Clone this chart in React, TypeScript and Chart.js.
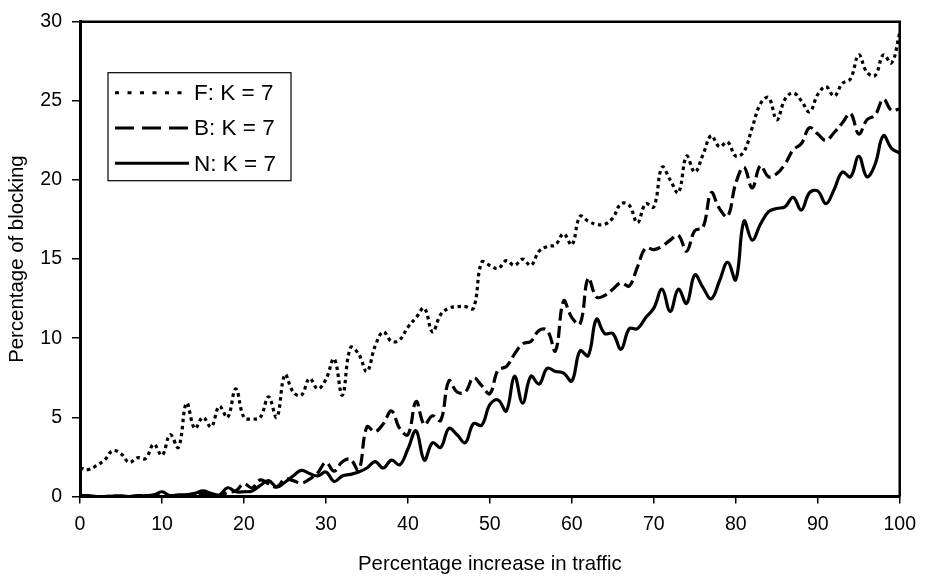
import React, { useEffect, useRef } from 'react';
import { Chart, registerables } from 'chart.js';

Chart.register(...registerables);

const FONT = '"Liberation Sans", Arial, Helvetica, sans-serif';

// Categories: percentage increase in traffic (0..100, step 1)
const xValues: number[] = Array.from({ length: 101 }, (_, i) => i);

const xTickStep = 10;
const yTickStep = 5;

const seriesLabels = ['F: K = 7', 'B: K = 7', 'N: K = 7'];

const seriesF = [
  1.8, 1.7, 1.95, 2.3, 2.9, 2.7, 2.15, 2.45, 2.4, 3.3,
  2.6, 3.9, 3.1, 5.9, 4.3, 5.0, 4.4, 5.7, 5.0, 6.8,
  5.0, 4.9, 5.0, 6.3, 5.0, 7.7, 6.6, 6.4, 7.45, 6.8,
  7.4, 8.7, 6.4, 9.4, 9.0, 7.9, 9.5, 10.4, 9.8, 9.9,
  10.7, 11.3, 11.9, 10.4, 11.5, 11.9, 12.0, 12.0, 11.9, 14.8,
  14.6, 14.4, 14.9, 14.6, 15.0, 14.6, 15.5, 15.8, 15.9, 16.6,
  15.9, 17.7, 17.4, 17.2, 17.2, 17.6, 18.5, 18.4, 17.3, 18.5,
  18.3, 20.8, 20.0, 19.2, 21.5, 20.5, 21.6, 22.8, 22.1, 22.4,
  21.5, 21.8, 23.3, 24.8, 25.2, 23.8, 25.1, 25.5, 25.0, 24.3,
  25.4, 25.9, 25.3, 26.1, 26.4, 27.9, 26.8, 26.6, 27.9, 27.4,
  29.3,
];

const seriesB = [
  0.02, 0.0, 0.0, 0.0, 0.02, 0.02, 0.0, 0.02, 0.05, 0.05,
  0.15, 0.05, 0.05, 0.1, 0.1, 0.2, 0.15, 0.05, 0.25, 0.35,
  0.8, 0.55, 1.05, 0.8, 0.6, 1.1, 1.0, 0.85, 1.1, 1.5,
  2.15, 1.6, 2.2, 2.35, 1.65, 4.4, 4.1, 4.6, 5.4, 4.3,
  3.9, 6.0, 4.55, 5.1, 4.8, 7.3, 6.6, 6.6, 7.5, 7.0,
  6.5, 8.0, 8.2, 9.0, 9.65, 9.8, 10.5, 10.5, 9.2, 12.35,
  11.3, 10.9, 13.8, 12.6, 12.7, 13.1, 13.5, 13.3, 14.5, 15.7,
  15.6, 15.8, 16.2, 16.5, 15.5, 16.8, 17.0, 19.2, 18.2, 17.7,
  19.8, 20.8, 19.5, 20.9, 20.2, 20.4, 21.0, 21.9, 22.3, 23.3,
  22.9, 22.5, 23.0, 23.6, 24.2, 22.9, 23.8, 24.1, 25.1, 24.4,
  24.5,
];

const seriesN = [
  0.05, 0.05, 0.0, 0.0, 0.02, 0.02, 0.0, 0.05, 0.05, 0.1,
  0.3, 0.05, 0.1, 0.1, 0.2, 0.35, 0.2, 0.1, 0.55, 0.3,
  0.3, 0.35, 0.7, 1.0, 0.6, 0.9, 1.3, 1.65, 1.45, 1.3,
  1.55, 0.95, 1.3, 1.4, 1.55, 1.8, 2.2, 1.8, 2.3, 2.0,
  3.0, 4.15, 2.3, 3.4, 3.1, 4.3, 3.9, 3.4, 4.6, 4.5,
  5.8, 6.1, 5.4, 7.6, 5.9, 7.6, 7.1, 8.1, 7.9, 7.8,
  7.3, 9.2, 8.9, 11.2, 10.3, 10.3, 9.3, 10.6, 10.6, 11.3,
  11.9, 13.1, 11.7, 13.1, 12.2, 14.0, 13.2, 12.5, 13.6, 14.8,
  13.7, 17.4, 16.2, 17.2, 18.0, 18.2, 18.3, 18.9, 18.1, 19.2,
  19.3, 18.5, 19.4, 20.5, 20.2, 21.5, 20.2, 21.0, 22.8, 22.0,
  21.7,
];

const plotDash: number[][] = [[3.5, 3.5], [12, 5], []];
const legendDash: number[][] = [[4, 8.5], [19, 8], []];

const frameAndLegend = {
  id: 'frameAndLegend',
  afterDraw(chart: any) {
    const { ctx, chartArea: a } = chart;
    ctx.save();
    ctx.strokeStyle = '#000';
    ctx.lineWidth = 2.5;
    ctx.setLineDash([]);
    ctx.beginPath();
    ctx.moveTo(a.left, a.top);
    ctx.lineTo(a.right, a.top);
    ctx.lineTo(a.right, a.bottom);
    ctx.stroke();

    const lx = a.left + 28;
    const ly = a.top + 51;
    const lw = 183;
    const lh = 108;
    ctx.fillStyle = '#fff';
    ctx.fillRect(lx, ly, lw, lh);
    ctx.lineWidth = 1.2;
    ctx.strokeRect(lx, ly, lw, lh);
    chart.data.datasets.forEach((ds: any, i: number) => {
      const y = ly + 20 + i * 35.3;
      ctx.setLineDash(legendDash[i]);
      ctx.lineWidth = 3;
      ctx.beginPath();
      ctx.moveTo(lx + 7, y);
      ctx.lineTo(lx + 81, y);
      ctx.stroke();
      ctx.setLineDash([]);
      ctx.font = `22.5px ${FONT}`;
      ctx.textBaseline = 'middle';
      ctx.textAlign = 'left';
      ctx.fillStyle = '#000';
      ctx.fillText(ds.label, lx + 86, y + 1);
    });
    ctx.restore();
  },
};

export default function App() {
  const canvasRef = useRef<HTMLCanvasElement | null>(null);

  useEffect(() => {
    const canvas = canvasRef.current;
    if (!canvas) return;
    const all = [seriesF, seriesB, seriesN];
    const chart = new Chart(canvas, {
      type: 'line',
      data: {
        datasets: all.map((s, i) => ({
          label: seriesLabels[i],
          data: xValues.map((x, j) => ({ x, y: s[j] })),
          borderColor: '#000',
          backgroundColor: '#000',
          borderWidth: 3.2,
          borderDash: plotDash[i],
          pointRadius: 0,
          tension: 0.4,
          fill: false,
        })),
      },
      options: {
        responsive: false,
        animation: false,
        layout: { padding: { top: 15, right: 22.5, left: 0, bottom: 0 } },
        plugins: {
          legend: { display: false },
          tooltip: { enabled: false },
        },
        scales: {
          x: {
            type: 'linear',
            min: 0,
            max: 100,
            ticks: {
              stepSize: xTickStep,
              color: '#000',
              font: { family: FONT, size: 19.5 },
              padding: 9,
              maxRotation: 0,
              autoSkip: false,
            },
            grid: {
              drawOnChartArea: false,
              drawTicks: true,
              tickLength: 7,
              color: '#000',
              lineWidth: 1.5,
            },
            border: { display: true, color: '#000', width: 3 },
            title: {
              display: true,
              text: 'Percentage increase in traffic',
              color: '#000',
              font: { family: FONT, size: 20.4 },
              padding: { top: 0, bottom: 4 },
            },
            afterFit: (s: any) => {
              s.height = 84.5;
            },
          },
          y: {
            type: 'linear',
            min: 0,
            max: 30,
            ticks: {
              stepSize: yTickStep,
              color: '#000',
              font: { family: FONT, size: 19.5 },
              padding: 10,
            },
            grid: {
              drawOnChartArea: false,
              drawTicks: true,
              tickLength: 8,
              color: '#000',
              lineWidth: 1.5,
            },
            border: { display: true, color: '#000', width: 3 },
            title: {
              display: true,
              text: 'Percentage of blocking',
              color: '#000',
              font: { family: FONT, size: 20.4 },
              padding: { top: 5, bottom: 0 },
            },
            afterFit: (s: any) => {
              s.width = 80;
            },
          },
        },
      },
      plugins: [frameAndLegend],
    } as any);
    return () => chart.destroy();
  }, []);

  return (
    <div style={{ position: 'absolute', left: 0, top: 0, width: 925, height: 581, background: '#fff' }}>
      <canvas ref={canvasRef} width={925} height={581} />
    </div>
  );
}
